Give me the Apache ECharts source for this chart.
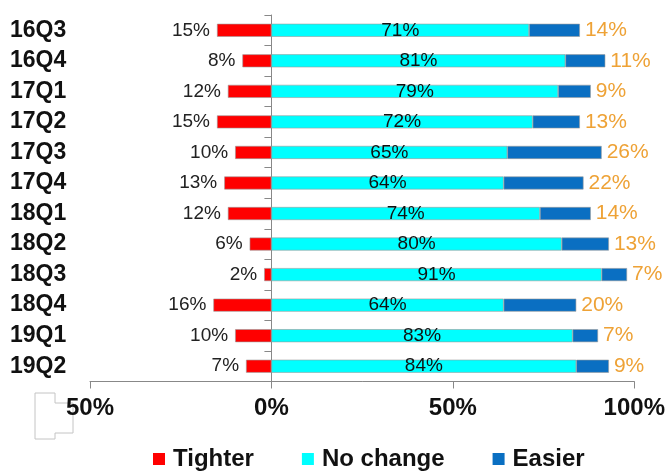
<!DOCTYPE html>
<html>
<head>
<meta charset="utf-8">
<script src="https://cdn.jsdelivr.net/npm/echarts@6/dist/echarts.min.js"></script>
<style>
html,body{margin:0;padding:0;background:#fff;}
#chart{width:668px;height:471px;}
</style>
</head>
<body>
<div id="chart"></div>
<script>
var categories = ['16Q3','16Q4','17Q1','17Q2','17Q3','17Q4','18Q1','18Q2','18Q3','18Q4','19Q1','19Q2'];
var tighter  = [15, 8, 12, 15, 10, 13, 12, 6, 2, 16, 10, 7];
var noChange = [71, 81, 79, 72, 65, 64, 74, 80, 91, 64, 83, 84];
var easier   = [14, 11, 9, 13, 26, 22, 14, 13, 7, 20, 7, 9];

var FONT = 'Liberation Sans, Arial, sans-serif';
var chart = echarts.init(document.getElementById('chart'));
var border = {borderColor: '#9a9a9a', borderWidth: 0.6};

chart.setOption({
  animation: false,
  textStyle: {fontFamily: FONT},
  grid: {left: 90, right: 31, top: 15, bottom: 89.5, containLabel: false},
  legend: {
    left: 153, top: 445, padding: 0,
    icon: 'rect', itemWidth: 12, itemHeight: 12, itemGap: 48,
    itemStyle: {borderWidth: 0},
    textStyle: {fontFamily: FONT, fontSize: 24, fontWeight: 'bold', color: '#111', lineHeight: 28, padding: [0,0,0,3]},
    data: ['Tighter', 'No change', 'Easier']
  },
  xAxis: {
    type: 'value', min: -50, max: 100, interval: 50,
    axisLine: {show: true, lineStyle: {color: '#888', width: 1}},
    axisTick: {show: true, length: 7, lineStyle: {color: '#888'}},
    splitLine: {show: false},
    axisLabel: {
      margin: 15, fontFamily: FONT, fontSize: 24, fontWeight: 'bold', color: '#111',
      formatter: function (v) { return Math.abs(v) + '%'; }
    }
  },
  yAxis: [{
    type: 'category', inverse: true, data: categories, position: 'left',
    axisLine: {show: false, onZero: false}, axisTick: {show: false},
    axisLabel: {margin: 80, align: 'left', fontFamily: FONT, fontSize: 23, fontWeight: 'bold', color: '#111'}
  }, {
    type: 'category', inverse: true, data: categories, position: 'left',
    axisLine: {show: true, onZero: true, lineStyle: {color: '#888', width: 1}},
    axisTick: {show: true, length: 7, lineStyle: {color: '#888'}},
    axisLabel: {show: false}
  }],
  graphic: [{
    type: 'polygon', z: -1,
    shape: {points: [[35,393],[55,393],[55,403],[73,403],[73,433],[55,433],[55,439],[35,439]]},
    style: {fill: 'none', stroke: '#c4c4c4', lineWidth: 1}
  }],
  series: [{
    name: 'Tighter', type: 'bar', stack: 'all', barWidth: 13, yAxisIndex: 0,
    data: tighter.map(function (v) { return -v; }),
    itemStyle: Object.assign({color: '#FF0000'}, border),
    label: {show: true, position: 'left', distance: 7, fontFamily: FONT, fontSize: 19, color: '#222',
      formatter: function (p) { return Math.abs(p.value) + '%'; }}
  }, {
    name: 'No change', type: 'bar', stack: 'all', barWidth: 13, yAxisIndex: 0,
    data: noChange,
    itemStyle: Object.assign({color: '#00FFFF'}, border),
    label: {show: true, position: 'inside', fontFamily: FONT, fontSize: 19, color: '#111',
      formatter: function (p) { return p.value + '%'; }}
  }, {
    name: 'Easier', type: 'bar', stack: 'all', barWidth: 13, yAxisIndex: 0,
    data: easier,
    itemStyle: Object.assign({color: '#0A6FC2'}, border),
    label: {show: true, position: 'right', distance: 5, fontFamily: FONT, fontSize: 21, color: '#EEA236',
      formatter: function (p) { return p.value + '%'; }}
  }]
});
</script>
</body>
</html>
